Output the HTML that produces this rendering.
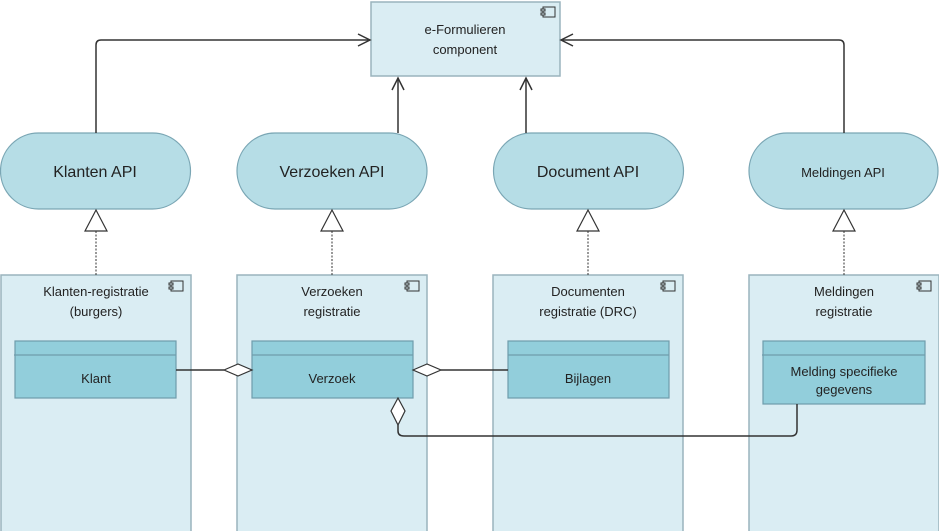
<!DOCTYPE html>
<html><head><style>
body{margin:0;background:#fff;}
svg{display:block;font-family:"Liberation Sans",sans-serif;}
</style></head><body>
<svg width="939" height="531" viewBox="0 0 939 531">
<defs>
<g id="ic"><rect x="0" y="0" width="12" height="10"/><rect x="-2" y="2" width="4" height="2" fill="#daedf3"/><rect x="-2" y="6" width="4" height="2" fill="#daedf3"/></g>
</defs>
<g stroke="#9ab4bd" stroke-width="1.5">
<rect x="1" y="275" width="190" height="260" fill="#daedf3"/>
<rect x="237" y="275" width="190" height="260" fill="#daedf3"/>
<rect x="493" y="275" width="190" height="260" fill="#daedf3"/>
<rect x="749" y="275" width="190" height="260" fill="#daedf3"/>
<rect x="371" y="2" width="189" height="74" fill="#daedf3"/>
</g>
<g stroke="#7aa6b4" stroke-width="1.2" fill="#b6dde6">
<rect x="0.5" y="133" width="190" height="76" rx="38"/>
<rect x="237" y="133" width="190" height="76" rx="38"/>
<rect x="493.5" y="133" width="190" height="76" rx="38"/>
<rect x="749" y="133" width="189" height="76" rx="38"/>
</g>
<g stroke="#6f9dab" stroke-width="1.2" fill="#92cedb">
<rect x="15" y="341" width="161" height="57"/><line x1="14" y1="355" x2="176" y2="355"/>
<rect x="252" y="341" width="161" height="57"/><line x1="252" y1="355" x2="413" y2="355"/>
<rect x="508" y="341" width="161" height="57"/><line x1="508" y1="355" x2="669" y2="355"/>
<rect x="763" y="341" width="162" height="63"/><line x1="762" y1="355" x2="925" y2="355"/>
</g>
<g fill="none" stroke="#333" stroke-width="1.5">
<path d="M96 133 V45 Q96 40 101 40 H370"/><path d="M358 34 L370 40 L358 46"/>
<path d="M398 133 V78"/><path d="M392 90 L398 78 L404 90"/>
<path d="M526 133 V78"/><path d="M520 90 L526 78 L532 90"/>
<path d="M844 133 V45 Q844 40 839 40 H561"/><path d="M573 34 L561 40 L573 46"/>
<path d="M176 370 H224"/><path d="M441 370 H508"/>
<path d="M398 425 V431 Q398 436 404 436 H791 Q797 436 797 430 V404"/>
</g>
<g stroke="#333" stroke-width="1" stroke-dasharray="2,1.5">
<line x1="96" y1="231" x2="96" y2="275"/><line x1="332" y1="231" x2="332" y2="275"/>
<line x1="588" y1="231" x2="588" y2="275"/><line x1="844" y1="231" x2="844" y2="275"/>
</g>
<g fill="#fff" stroke="#333" stroke-width="1.2">
<path d="M96 210 L107 231 L85 231Z"/><path d="M332 210 L343 231 L321 231Z"/>
<path d="M588 210 L599 231 L577 231Z"/><path d="M844 210 L855 231 L833 231Z"/>
<path d="M224 370 L238 364 L252 370 L238 376Z"/>
<path d="M413 370 L427 364 L441 370 L427 376Z"/>
<path d="M398 398 L405 411 L398 425 L391 411Z"/>
</g>
<g fill="none" stroke="#333" stroke-width="1">
<use href="#ic" x="543" y="7"/><use href="#ic" x="171" y="281"/><use href="#ic" x="407" y="281"/><use href="#ic" x="663" y="281"/><use href="#ic" x="919" y="281"/>
</g>
<g fill="#222" text-anchor="middle" font-size="13">
<text x="465" y="34">e-Formulieren</text><text x="465" y="54">component</text>
<text x="95" y="177" font-size="16">Klanten API</text>
<text x="332" y="177" font-size="16">Verzoeken API</text>
<text x="588" y="177" font-size="16">Document API</text>
<text x="843" y="177" font-size="13">Meldingen API</text>
<text x="96" y="296">Klanten-registratie</text><text x="96" y="316">(burgers)</text>
<text x="332" y="296">Verzoeken</text><text x="332" y="316">registratie</text>
<text x="588" y="296">Documenten</text><text x="588" y="316">registratie (DRC)</text>
<text x="844" y="296">Meldingen</text><text x="844" y="316">registratie</text>
<text x="96" y="383">Klant</text>
<text x="332" y="383">Verzoek</text>
<text x="588" y="383">Bijlagen</text>
<text x="844" y="376">Melding specifieke</text><text x="844" y="394">gegevens</text>
</g>
</svg>
</body></html>
